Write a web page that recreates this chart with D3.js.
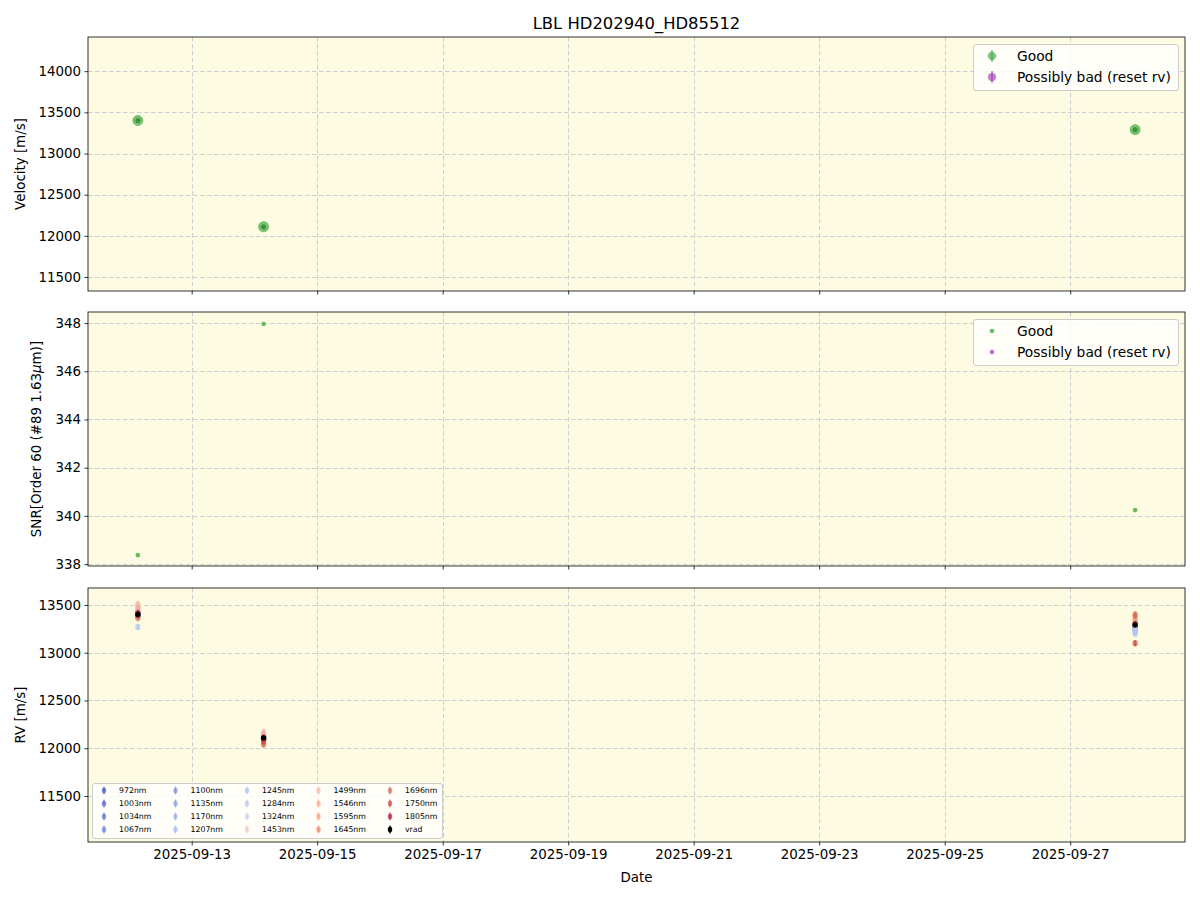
<!DOCTYPE html>
<html><head><meta charset="utf-8">
<script src="https://cdn.jsdelivr.net/npm/d3@7"></script>
<style>body{margin:0;background:#fff}svg{font-family:"DejaVu Sans",sans-serif}</style>
</head><body><svg id="c" width="1200" height="900"></svg>
<script>
// ---- data ----
const dates = ["2025-09-12T03:25:00", "2025-09-14T03:30:00", "2025-09-28T00:50:00"];
const velocity = [13400, 12110, 13290];
const velocityErr = [8, 8, 8];
const snr = [338.37, 347.96, 340.24];
const wavelengths = ["972nm","1003nm","1034nm","1067nm","1100nm","1135nm","1170nm","1207nm","1245nm","1284nm","1324nm","1453nm","1499nm","1546nm","1595nm","1645nm","1696nm","1750nm","1805nm"];
const rvEpoch1 = [13410,13395,13420,13390,13405,13380,13430,13400,13270,13440,13460,13490,13510,13470,13380,13360,13420,13390,13410];
const rvEpoch2 = [12090,12110,12100,12120,12080,12110,12130,12100,12060,12090,12120,12150,12170,12140,12100,12060,12040,12080,12110];
const rvEpoch3 = [13310,13280,13300,13270,13260,13240,13220,13250,13200,13230,13270,13300,13320,13350,13330,13380,13400,13100,13300];
const rvErr = [25,25,25,25,25,25,25,25,25,25,25,25,25,25,25,25,30,30,30];
const vrad = [13400, 12108, 13290];
const vradErr = [10, 10, 10];
const xTicks = ["2025-09-13","2025-09-15","2025-09-17","2025-09-19","2025-09-21","2025-09-23","2025-09-25","2025-09-27"];
const velTicks = [11500,12000,12500,13000,13500,14000];
const snrTicks = [338,340,342,344,346,348];
const rvTicks = [11500,12000,12500,13000,13500];

// ---- layout ----
const svg = d3.select("#c");
const L = 88, R = 1185;
const panels = [[37,291],[312,566],[588,842]];
const bg = "#fdfbe1", grid = "#c9c9cf", green = "#2ca02c", purple = "#9b30b0";
const FT = "13.4px", FL = "13.8px";

const parse = d3.isoParse;
const tDates = dates.map(parse);
const tmin = d3.min(tDates), tmax = d3.max(tDates);
const pad = (tmax - tmin) * 0.05;
const x = d3.scaleTime().domain([new Date(+tmin - pad), new Date(+tmax + pad)]).range([L, R]);

const yV = d3.scaleLinear().domain([11330, 14415]).range([panels[0][1], panels[0][0]]);
const yS = d3.scaleLinear().domain([337.92, 348.46]).range([panels[1][1], panels[1][0]]);
const yR = d3.scaleLinear().domain([11018, 13678]).range([panels[2][1], panels[2][0]]);

// coolwarm approximation, mapped by wavelength value
const cw = d3.piecewise(d3.interpolateLab, ["#3b4cc0","#8db0fe","#dddddd","#f49a7a","#b40426"]);
const wlNum = wavelengths.map(w => parseFloat(w));
const wlScale = d3.scaleLinear().domain(d3.extent(wlNum)).range([0, 1]);
const wlColor = j => cw(wlScale(wlNum[j]));
const A = 0.65;

function panel(idx, y, ticks, showXLabels) {
  const [top, bot] = panels[idx];
  const g = svg.append("g");
  g.append("rect").attr("x", L).attr("y", top).attr("width", R - L).attr("height", bot - top).attr("fill", bg);
  xTicks.forEach(t => {
    const xx = Math.round(x(parse(t))) + 0.5;
    g.append("line").attr("x1", xx).attr("x2", xx).attr("y1", top).attr("y2", bot)
      .attr("stroke", grid).attr("stroke-width", 0.9).attr("stroke-dasharray", "4.5,2.5");
  });
  ticks.forEach(t => {
    const yy = Math.round(y(t)) + 0.5;
    g.append("line").attr("x1", L).attr("x2", R).attr("y1", yy).attr("y2", yy)
      .attr("stroke", grid).attr("stroke-width", 0.9).attr("stroke-dasharray", "4.5,2.5");
  });
  const ya = d3.axisLeft(y).tickValues(ticks).tickSize(3.5).tickPadding(3.5).tickFormat(d3.format("d"));
  const ga = g.append("g").attr("transform", `translate(${L},0)`).call(ya);
  ga.select(".domain").remove();
  ga.selectAll("text").attr("font-size", FT).attr("font-family", "DejaVu Sans").attr("fill", "#000");
  ga.selectAll("line").attr("stroke", "#000").attr("stroke-width", 0.8);
  const xa = d3.axisBottom(x).tickValues(xTicks.map(parse)).tickSize(3.5).tickPadding(3.5)
    .tickFormat(showXLabels ? d3.timeFormat("%Y-%m-%d") : () => "");
  const gx = g.append("g").attr("transform", `translate(0,${bot})`).call(xa);
  gx.select(".domain").remove();
  gx.selectAll("text").attr("font-size", FT).attr("font-family", "DejaVu Sans").attr("fill", "#000");
  gx.selectAll("line").attr("stroke", "#000").attr("stroke-width", 0.8);
  return g;
}
function frame(idx) {
  const [top, bot] = panels[idx];
  svg.append("rect").attr("x", L).attr("y", top).attr("width", R - L).attr("height", bot - top)
    .attr("fill", "none").attr("stroke", "#000").attr("stroke-width", 0.8);
}

// Panel 1: velocity
const g1 = panel(0, yV, velTicks, false);
tDates.forEach((d, i) => {
  g1.append("line").attr("x1", x(d)).attr("x2", x(d)).attr("y1", yV(velocity[i] - velocityErr[i])).attr("y2", yV(velocity[i] + velocityErr[i]))
    .attr("stroke", green).attr("stroke-opacity", 0.6).attr("stroke-width", 1.5);
  g1.append("circle").attr("cx", x(d)).attr("cy", yV(velocity[i])).attr("r", 5)
    .attr("fill", green).attr("fill-opacity", 0.6).attr("stroke", green).attr("stroke-opacity", 0.5).attr("stroke-width", 1);
  g1.append("circle").attr("cx", x(d)).attr("cy", yV(velocity[i])).attr("r", 2.6)
    .attr("fill", "#23802a").attr("fill-opacity", 0.7);
});
frame(0);

// Panel 2: SNR
const g2 = panel(1, yS, snrTicks, false);
tDates.forEach((d, i) => {
  g2.append("circle").attr("cx", x(d)).attr("cy", yS(snr[i])).attr("r", 2.3)
    .attr("fill", green).attr("fill-opacity", 0.7);
});
frame(1);

// Panel 3: RV per wavelength
const g3 = panel(2, yR, rvTicks, true);
const epochs = [rvEpoch1, rvEpoch2, rvEpoch3];
wavelengths.forEach((w, j) => {
  const c = wlColor(j);
  tDates.forEach((d, i) => {
    const v = epochs[i][j];
    g3.append("line").attr("x1", x(d)).attr("x2", x(d)).attr("y1", yR(v - rvErr[j])).attr("y2", yR(v + rvErr[j]))
      .attr("stroke", c).attr("stroke-opacity", A).attr("stroke-width", 1.5);
    g3.append("ellipse").attr("cx", x(d)).attr("cy", yR(v)).attr("rx", 2.6).attr("ry", 3.2)
      .attr("fill", c).attr("fill-opacity", A);
  });
});
tDates.forEach((d, i) => {
  g3.append("line").attr("x1", x(d)).attr("x2", x(d)).attr("y1", yR(vrad[i] - vradErr[i])).attr("y2", yR(vrad[i] + vradErr[i]))
    .attr("stroke", "#000").attr("stroke-width", 1.2);
  g3.append("circle").attr("cx", x(d)).attr("cy", yR(vrad[i])).attr("r", 2.7).attr("fill", "#000");
});
frame(2);

// titles / labels
svg.append("text").attr("x", (L + R) / 2).attr("y", 29).attr("text-anchor", "middle").attr("font-size", "16.4px").text("LBL HD202940_HD85512");
svg.append("text").attr("x", (L + R) / 2).attr("y", 882).attr("text-anchor", "middle").attr("font-size", FT).text("Date");
function ylab(txt, xx, yy) {
  return svg.append("text").attr("transform", `translate(${xx},${yy}) rotate(-90)`).attr("text-anchor", "middle").attr("font-size", FT).text(txt);
}
ylab("Velocity [m/s]", 25, (panels[0][0] + panels[0][1]) / 2);
const sl = svg.append("text").attr("transform", `translate(41,${(panels[1][0] + panels[1][1]) / 2}) rotate(-90)`).attr("text-anchor", "middle").attr("font-size", FT);
sl.append("tspan").text("SNR[Order 60 (#89 1.63");
sl.append("tspan").attr("font-style", "italic").text("μ");
sl.append("tspan").text("m)]");
ylab("RV [m/s]", 25, (panels[2][0] + panels[2][1]) / 2);

// legends
function legendBox(x0, y0, w, h) {
  svg.append("rect").attr("x", x0 + 0.5).attr("y", y0 + 0.5).attr("width", w).attr("height", h).attr("rx", 2.5)
    .attr("fill", "#fff").attr("fill-opacity", 0.8).attr("stroke", "#cccccc").attr("stroke-width", 1);
}
const legItems = [["Good", green], ["Possibly bad (reset rv)", purple]];
legendBox(973, 44, 205, 46);
legItems.forEach((it, k) => {
  const yy = 56 + k * 21;
  svg.append("line").attr("x1", 992).attr("x2", 992).attr("y1", yy - 6).attr("y2", yy + 6).attr("stroke", it[1]).attr("stroke-opacity", 0.6).attr("stroke-width", 1.5);
  svg.append("circle").attr("cx", 992).attr("cy", yy).attr("r", 4.2).attr("fill", it[1]).attr("fill-opacity", 0.6);
  svg.append("text").attr("x", 1017).attr("y", yy + 4.8).attr("font-size", FL).text(it[0]);
});
legendBox(973, 319, 205, 46);
legItems.forEach((it, k) => {
  const yy = 331 + k * 21;
  svg.append("circle").attr("cx", 992).attr("cy", yy).attr("r", 2.3).attr("fill", it[1]).attr("fill-opacity", 0.7);
  svg.append("text").attr("x", 1017).attr("y", yy + 4.8).attr("font-size", FL).text(it[0]);
});
legendBox(92, 783, 350, 55);
const allLeg = wavelengths.map((w, j) => [w, wlColor(j), A]).concat([["vrad", "#000", 1]]);
allLeg.forEach((it, k) => {
  const col = Math.floor(k / 4), row = k % 4;
  const mx = 104 + col * 71.5, my = 790.5 + row * 13;
  svg.append("line").attr("x1", mx).attr("x2", mx).attr("y1", my - 4).attr("y2", my + 4).attr("stroke", it[1]).attr("stroke-opacity", it[2]).attr("stroke-width", 1.2);
  svg.append("ellipse").attr("cx", mx).attr("cy", my).attr("rx", 2.2).attr("ry", 3).attr("fill", it[1]).attr("fill-opacity", it[2]);
  svg.append("text").attr("x", mx + 15).attr("y", my + 2.8).attr("font-size", "7.8px").text(it[0]);
});
</script></body></html>
